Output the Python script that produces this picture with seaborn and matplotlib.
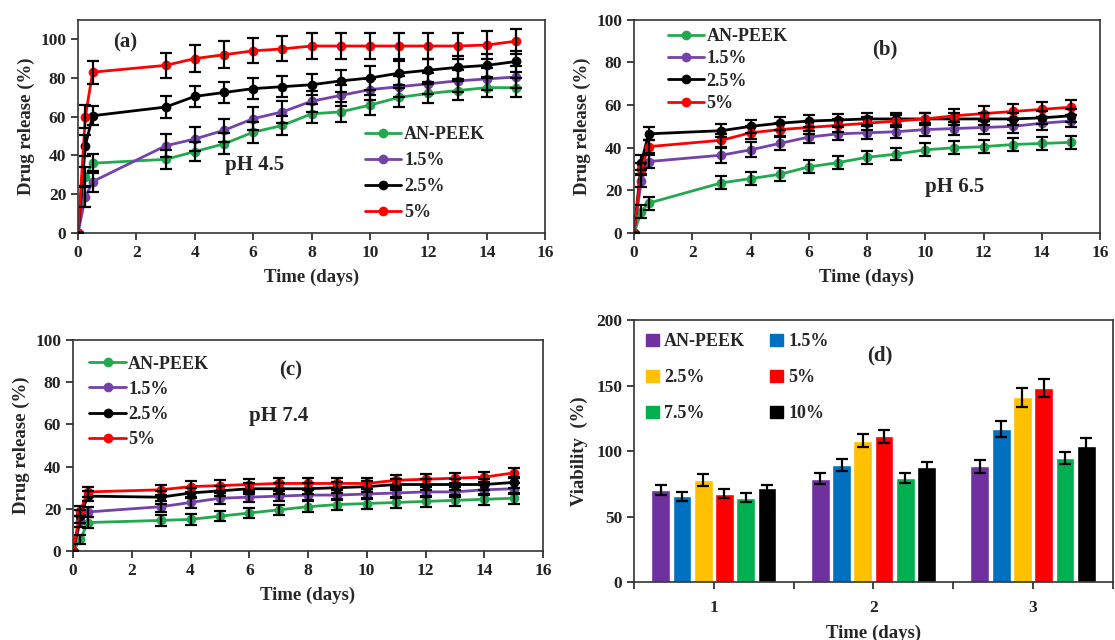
import matplotlib
matplotlib.use("Agg")
import numpy as np
import pandas as pd
import matplotlib.pyplot as plt
import seaborn as sns
from matplotlib.lines import Line2D
from matplotlib.patches import Patch

# ---------------- data ----------------
time_days = [0, 0.25, 0.5, 3, 4, 5, 6, 7, 8, 9, 10, 11, 12, 13, 14, 15]
samples = ["AN-PEEK", "1.5%", "2.5%", "5%"]
line_colors = ["#22A94F", "#7442A8", "#000000", "#FF0000"]

# pH 4.5
ph45_anpeek = [0, 29, 36, 38, 42, 46, 52, 55.5, 61.5, 62.5, 66, 70, 72, 73.5, 75, 75]
ph45_15 = [0, 18.5, 26.5, 45, 48.5, 53, 59, 62.5, 68, 71, 74, 75.5, 77, 78.5, 79.5, 80.5]
ph45_25 = [0, 45, 60.5, 65, 70.5, 72.5, 74.5, 75.5, 76.5, 78.5, 80, 82.5, 84, 85.5, 86.5, 88.5]
ph45_5 = [0, 60, 83, 86.5, 90, 92, 94, 95, 96.5, 96.5, 96.5, 96.5, 96.5, 96.5, 97, 99]
ph45_err_anpeek = [0, 5, 5, 5, 5, 5.5, 5.5, 5, 5, 5, 5, 5, 5, 5, 5, 5]
ph45_err_15 = [0, 5, 5.5, 6, 6, 6, 6, 5.5, 5.5, 5.5, 5.5, 5.5, 5.5, 5.5, 5.5, 5.5]
ph45_err_25 = [0, 5.5, 5, 5.5, 5.5, 5.5, 5.5, 5.5, 5.5, 5.5, 6, 6, 6, 6, 6, 5.5]
ph45_err_5 = [0, 6, 6, 6.5, 7, 7, 6.5, 6.5, 6.5, 6.5, 6.5, 6.5, 6.5, 6.5, 7, 6.5]

# pH 6.5
ph65_anpeek = [0, 10, 14, 23.5, 25.5, 27.5, 31, 33, 35.5, 37, 39, 40, 40.5, 41.5, 42, 42.5]
ph65_15 = [0, 24.5, 33.5, 36.5, 39, 42, 45, 46.5, 47, 47.5, 48.5, 49, 49.5, 50, 51.5, 52.5]
ph65_25 = [0, 33, 46.5, 48, 50, 51.5, 52.5, 53, 53.5, 53.5, 53.5, 53.5, 53.5, 53.5, 54, 55]
ph65_5 = [0, 30, 40.5, 43.5, 47, 48.5, 49.5, 50.5, 51.5, 52.5, 53.5, 55, 56, 57, 58, 59]
ph65_err_anpeek = [0, 3, 3, 3, 3, 3, 3, 3, 3, 3, 3, 3, 3, 3, 3, 3]
ph65_err_15 = [0, 3, 3, 3.5, 3.5, 3, 3, 3, 3, 3, 3, 3, 3, 3, 3, 3]
ph65_err_25 = [0, 3.5, 3, 3, 3, 3, 3, 3, 3, 3, 3, 3, 3, 3, 3, 3]
ph65_err_5 = [0, 3, 3, 3, 3, 3, 3, 3, 3, 3, 3, 3, 3.5, 3.5, 3.5, 3.5]

# pH 7.4
ph74_anpeek = [0, 5.5, 13.5, 14.5, 15, 16.5, 18, 19.5, 21, 22, 22.5, 23, 23.5, 24, 24.5, 25]
ph74_15 = [0, 14, 18.5, 21, 23, 25, 25.5, 26, 26.5, 26.5, 27, 27.5, 28, 28, 29, 29.5]
ph74_25 = [0, 16.5, 26, 25.5, 27.5, 28.5, 29.5, 29.5, 29.5, 30, 30.5, 31.5, 31.5, 31.5, 31.5, 32.5]
ph74_5 = [0, 19, 28, 29, 30.5, 31, 31.5, 32, 32, 32, 32, 33.5, 34, 34.5, 35, 37]
ph74_err_anpeek = [0, 2, 2.5, 2.5, 2.5, 2.5, 2.5, 2.5, 2.5, 2.5, 2.5, 2.5, 2.5, 2.5, 2.5, 2.5]
ph74_err_15 = [0, 2.5, 2.5, 2.5, 2.5, 2.5, 2.5, 2.5, 2.5, 2.5, 2.5, 2.5, 2.5, 2.5, 2.5, 2.5]
ph74_err_25 = [0, 3, 2.5, 3, 2.5, 2.5, 2.5, 2.5, 2.5, 2.5, 2.5, 2.5, 2.5, 2.5, 2.5, 2.5]
ph74_err_5 = [0, 2.5, 2.5, 2.5, 2.5, 2.5, 2.5, 2.5, 2.5, 2.5, 2.5, 2.5, 2.5, 2.5, 2.5, 2.5]

# viability
viab_days = ["1", "2", "3"]
viab_groups = ["AN-PEEK", "1.5%", "2.5%", "5%", "7.5%", "10%"]
viab_colors = ["#7030A0", "#0070C0", "#FFC000", "#FF0000", "#00B050", "#000000"]
viab_day1 = [70.5, 65.5, 78, 67.5, 64.5, 71.5]
viab_day2 = [79, 89.5, 108, 111.5, 79.5, 87.5]
viab_day3 = [88.5, 117, 141, 148, 95, 104]
viab_err_day1 = [4, 3.5, 4.5, 3.5, 3.5, 3]
viab_err_day2 = [4, 4.5, 5, 5, 3.5, 4]
viab_err_day3 = [5, 6, 7, 7, 4.5, 6]

# ---------------- styling ----------------
sns.set_style("ticks")
plt.rcParams["font.family"] = ["Liberation Serif", "DejaVu Serif"]
plt.rcParams["font.weight"] = "bold"
plt.rcParams["axes.labelweight"] = "bold"
plt.rcParams["axes.edgecolor"] = "#333333"
plt.rcParams["axes.linewidth"] = 1.2

TICK_FS = 12.5
LABEL_FS = 13.5
LEG_FS = 13


def style_axes(ax):
    ax.tick_params(direction="out", length=5, width=1.2, labelsize=TICK_FS, colors="#222222")
    for lab in ax.get_xticklabels() + ax.get_yticklabels():
        lab.set_fontweight("bold")
    for sp in ax.spines.values():
        sp.set_visible(True)


def release_panel(ax, series, errors, ylim, yticks, tag, tag_xy, ph, ph_xy,
                  leg_anchor, leg_spacing):
    df = pd.DataFrame({
        "time": time_days * len(samples),
        "release": np.concatenate(series),
        "sample": np.repeat(samples, len(time_days)),
    })
    sns.lineplot(data=df, x="time", y="release", hue="sample", hue_order=samples,
                 palette=line_colors, marker="o", markersize=7, markeredgewidth=0,
                 linewidth=2, errorbar=None, legend=False, ax=ax, zorder=2)
    for vals, err in zip(series, errors):
        ax.errorbar(time_days, vals, yerr=err, fmt="none", ecolor="black",
                    elinewidth=1.6, capsize=4, capthick=1.6, zorder=3)
    ax.set_xlim(0, 16)
    ax.set_xticks(range(0, 17, 2))
    ax.set_ylim(*ylim)
    ax.set_yticks(yticks)
    ax.set_xlabel("Time (days)", fontsize=LABEL_FS, labelpad=6)
    ax.set_ylabel("Drug release (%)", fontsize=LABEL_FS, labelpad=4)
    ax.text(*tag_xy, tag, fontsize=15, fontweight="bold", ha="center", va="center")
    ax.text(*ph_xy, ph, fontsize=15, fontweight="bold", ha="center", va="center")
    handles = [Line2D([0], [0], color=c, lw=2, marker="o", ms=7, mew=0) for c in line_colors]
    ax.legend(handles, samples, loc="upper left", bbox_to_anchor=leg_anchor, frameon=False,
              fontsize=LEG_FS, handlelength=2.0, handletextpad=0.15,
              labelspacing=leg_spacing, borderpad=0, borderaxespad=0)
    style_axes(ax)


fig = plt.figure(figsize=(11.15, 6.4), dpi=100)
ax_a = fig.add_axes([0.070, 0.636, 0.419, 0.333])
ax_b = fig.add_axes([0.5686, 0.636, 0.418, 0.333])
ax_c = fig.add_axes([0.0655, 0.139, 0.4215, 0.330])
ax_d = fig.add_axes([0.5686, 0.0906, 0.4295, 0.409])

release_panel(ax_a, [ph45_anpeek, ph45_15, ph45_25, ph45_5],
              [ph45_err_anpeek, ph45_err_15, ph45_err_25, ph45_err_5],
              (0, 110), range(0, 101, 20), "(a)", (1.6, 98.5), "pH 4.5", (6.05, 35),
              (0.615, 0.50), 0.5)
release_panel(ax_b, [ph65_anpeek, ph65_15, ph65_25, ph65_5],
              [ph65_err_anpeek, ph65_err_15, ph65_err_25, ph65_err_5],
              (0, 100), range(0, 101, 20), "(b)", (8.6, 86), "pH 6.5", (11.0, 21.6),
              (0.072, 0.962), 0.3)
release_panel(ax_c, [ph74_anpeek, ph74_15, ph74_25, ph74_5],
              [ph74_err_anpeek, ph74_err_15, ph74_err_25, ph74_err_5],
              (0, 100), range(0, 101, 20), "(c)", (7.4, 85.3), "pH 7.4", (7.0, 64),
              (0.035, 0.925), 0.45)

# ---------------- viability bars ----------------
vdf = pd.DataFrame({
    "day": np.repeat(viab_days, len(viab_groups)),
    "group": viab_groups * len(viab_days),
    "viability": np.concatenate([viab_day1, viab_day2, viab_day3]),
})
sns.barplot(data=vdf, x="day", y="viability", hue="group", hue_order=viab_groups,
            palette=viab_colors, width=0.8, gap=0.12, saturation=1, errorbar=None,
            legend=False, ax=ax_d)
viab_err = np.array([viab_err_day1, viab_err_day2, viab_err_day3])
bar_containers = list(ax_d.containers)
for gi, cont in enumerate(bar_containers):
    xs = [b.get_x() + b.get_width() / 2 for b in cont]
    ys = [b.get_height() for b in cont]
    ax_d.errorbar(xs, ys, yerr=viab_err[:, gi], fmt="none", ecolor="black",
                  elinewidth=1.6, capsize=4, capthick=1.6, zorder=3)
ax_d.set_xlim(-0.5, 2.5)
ax_d.set_ylim(0, 200)
ax_d.set_yticks(range(0, 201, 50))
ax_d.set_xticks([-0.5, 0.5, 1.5, 2.5], minor=True)
ax_d.tick_params(axis="x", which="major", length=0, pad=8)
ax_d.tick_params(axis="x", which="minor", length=5, width=1.2, direction="out")
ax_d.set_xlabel("Time (days)", fontsize=LABEL_FS, labelpad=6)
ax_d.set_ylabel("Viability  (%)", fontsize=LABEL_FS, labelpad=6)
ax_d.text(1.04, 173, "(d)", fontsize=15, fontweight="bold", ha="center", va="center")
order = [0, 2, 4, 1, 3, 5]
bar_handles = [Patch(color=viab_colors[i]) for i in order]
ax_d.legend(bar_handles, [viab_groups[i] for i in order], ncol=2, loc="upper left",
            bbox_to_anchor=(0.025, 0.95), frameon=False, fontsize=LEG_FS,
            handlelength=0.7, handleheight=0.7, handletextpad=0.3,
            labelspacing=1.05, columnspacing=1.4, borderpad=0, borderaxespad=0)
style_axes(ax_d)

fig.savefig("out.png", dpi=100)
